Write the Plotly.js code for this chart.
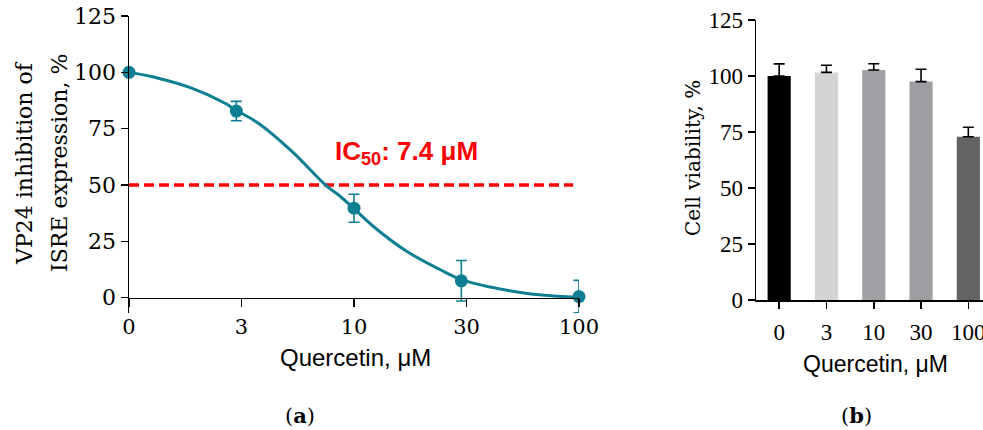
<!DOCTYPE html>
<html>
<head>
<meta charset="utf-8">
<script src="https://cdn.plot.ly/plotly-3.0.1.min.js"></script>
<style>
  html, body { margin: 0; padding: 0; background: #fff; }
  #chart { width: 983px; height: 430px; }
</style>
</head>
<body>
<div id="chart"></div>
<script>
// ---------- Data: panel (a) ----------
const doseConc = [0, 3, 10, 30, 100];             // μM
const inhibitionMean = [100, 82.8, 39.7, 7.5, 0.5]; // %
const inhibitionErr = [0, 4.3, 6.2, 9.0, 7.2];
// fitted dose-response curve (μM, %)
const curveConc = [1, 1.35, 1.9, 2.67, 3, 3.76, 5.3, 7.45, 8.7, 10, 12.2, 17.2, 24.2, 30, 40.4, 56.9, 80, 100];
const curveInhib = [100, 97.4, 93.0, 86.3, 83.1, 77.4, 64.9, 50.1, 44.9, 39.5, 31.6, 20.5, 12.4, 8.0, 4.7, 2.1, 0.6, 0.1];
const ic50Level = 50;
const doseTickLabels = ["0", "3", "10", "30", "100"];

// ---------- Data: panel (b) ----------
const viabilityCats = ["0", "3", "10", "30", "100"];
const viabilityMean = [100, 101.6, 102.7, 97.5, 72.9];
const viabilityErr = [5.4, 3.2, 2.8, 5.5, 4.2];
const barColors = ["#000000", "#d4d4d4", "#a2a2a6", "#9e9ea2", "#636363"];

const yTicks = [0, 25, 50, 75, 100, 125];

// ---------- Layout geometry ----------
const W = 983, H = 430;
const teal = "#0e7f93";
const yMinA = -6.8, yMaxA = 125;
const yDomA = [1 - 313 / H, 1 - 16 / H];
const xDomA = [129 / W, 579 / W];
const xDomB = [756 / W, 1];
const yDomB = [1 - 300 / H, 1 - 20 / H];
const xAxisPosA = yDomA[0] + (0 - yMinA) / (yMaxA - yMinA) * (yDomA[1] - yDomA[0]);

// x positions on log axis: 0 μM is plotted at the axis origin (1)
const doseX = doseConc.map(c => (c === 0 ? 1 : c));
const doseTickVals = doseTickLabels.map((_, i) => Math.pow(10, i / 2));

const traces = [
  {
    x: curveConc, y: curveInhib, type: "scatter", mode: "lines",
    line: { color: teal, width: 3, shape: "spline", smoothing: 1 },
    xaxis: "x", yaxis: "y", hoverinfo: "skip", cliponaxis: false
  },
  {
    x: doseX, y: inhibitionMean, type: "scatter", mode: "markers",
    marker: { color: teal, size: 13 },
    error_y: { type: "data", array: inhibitionErr, visible: true, color: teal, thickness: 1.6, width: 5.5 },
    xaxis: "x", yaxis: "y", cliponaxis: false
  },
  {
    x: viabilityCats, y: viabilityMean, type: "bar",
    marker: { color: barColors, line: { width: 0 } },
    width: 0.49,
    error_y: { type: "data", array: viabilityErr, arrayminus: viabilityCats.map(() => 0), symmetric: false, visible: true, color: "#000", thickness: 1.6, width: 5.5 },
    xaxis: "x2", yaxis: "y2", cliponaxis: false
  }
];

const serifA = "DejaVu Serif, serif";
const serifB = "Liberation Serif, serif";

const layout = {
  width: W, height: H,
  margin: { l: 0, r: 0, t: 0, b: 0, pad: 0 },
  paper_bgcolor: "#fff", plot_bgcolor: "rgba(0,0,0,0)",
  showlegend: false,
  xaxis: {
    type: "log", domain: xDomA, range: [0, 2], anchor: "free", position: xAxisPosA,
    tickmode: "array", tickvals: doseTickVals, ticktext: doseTickLabels,
    ticks: "outside", ticklen: 8, tickwidth: 1.5, tickcolor: "#000",
    showline: true, linecolor: "#000", linewidth: 1.5,
    showgrid: false, zeroline: false, automargin: false,
    ticklabelstandoff: 2,
    tickfont: { family: serifA, size: 21, color: "#000" }
  },
  yaxis: {
    domain: yDomA, range: [yMinA, yMaxA], anchor: "x",
    tickmode: "array", tickvals: yTicks,
    ticks: "outside", ticklen: 7, tickwidth: 1.5, tickcolor: "#000",
    showline: true, linecolor: "#000", linewidth: 1.5,
    showgrid: false, zeroline: false, automargin: false,
    tickfont: { family: serifA, size: 22, color: "#000" }
  },
  xaxis2: {
    type: "category", domain: xDomB, range: [-0.49, 4.31], anchor: "y2",
    ticks: "outside", ticklen: 7, tickwidth: 1.5, tickcolor: "#000",
    showline: true, linecolor: "#000", linewidth: 1.5,
    showgrid: false, zeroline: false, automargin: false,
    ticklabelstandoff: 4,
    tickfont: { family: serifB, size: 23, color: "#000" }
  },
  yaxis2: {
    domain: yDomB, range: [0, 125], anchor: "x2",
    tickmode: "array", tickvals: yTicks,
    ticks: "outside", ticklen: 7, tickwidth: 1.5, tickcolor: "#000",
    showline: true, linecolor: "#000", linewidth: 1.5,
    showgrid: false, zeroline: false, automargin: false,
    tickfont: { family: serifB, size: 23, color: "#000" }
  },
  shapes: [
    {
      type: "line", xref: "x domain", yref: "y", x0: 0, x1: 0.987, y0: ic50Level, y1: ic50Level,
      line: { color: "#ff0000", width: 3.5, dash: "10px,5px" }, layer: "below"
    }
  ],
  annotations: [
    { text: "VP24 inhibition of", xref: "paper", yref: "paper", x: 25 / W, y: 1 - 163 / H,
      xanchor: "center", yanchor: "middle", textangle: -90, showarrow: false,
      font: { family: serifA, size: 22, color: "#000" } },
    { text: "ISRE expression, %", xref: "paper", yref: "paper", x: 60 / W, y: 1 - 163 / H,
      xanchor: "center", yanchor: "middle", textangle: -90, showarrow: false,
      font: { family: serifA, size: 22, color: "#000" } },
    { text: "Cell viability, %", xref: "paper", yref: "paper", x: 693 / W, y: 1 - 158 / H,
      xanchor: "center", yanchor: "middle", textangle: -90, showarrow: false,
      font: { family: serifA, size: 20, color: "#000" } },
    { text: "Quercetin, μM", xref: "paper", yref: "paper", x: 355 / W, y: 1 - 357 / H,
      xanchor: "center", yanchor: "middle", showarrow: false,
      font: { family: "Liberation Sans, Arial, sans-serif", size: 24, color: "#000" } },
    { text: "Quercetin, μM", xref: "paper", yref: "paper", x: 875 / W, y: 1 - 364 / H,
      xanchor: "center", yanchor: "middle", showarrow: false,
      font: { family: "Liberation Sans, Arial, sans-serif", size: 23, color: "#000" } },
    { text: "<b>IC<sub>50</sub>: 7.4 μM</b>", xref: "paper", yref: "paper", x: 333 / W, y: 1 - 152 / H,
      xanchor: "left", yanchor: "middle", showarrow: false,
      font: { family: "Liberation Sans, Arial, sans-serif", size: 26, color: "#ff0000" } },
    { text: "(<b>a</b>)", xref: "paper", yref: "paper", x: 300 / W, y: 1 - 415 / H,
      xanchor: "center", yanchor: "middle", showarrow: false,
      font: { family: serifA, size: 21, color: "#000" } },
    { text: "(<b>b</b>)", xref: "paper", yref: "paper", x: 856 / W, y: 1 - 415 / H,
      xanchor: "center", yanchor: "middle", showarrow: false,
      font: { family: serifA, size: 21, color: "#000" } }
  ]
};

Plotly.newPlot("chart", traces, layout, { staticPlot: true, displayModeBar: false });
</script>
</body>
</html>
